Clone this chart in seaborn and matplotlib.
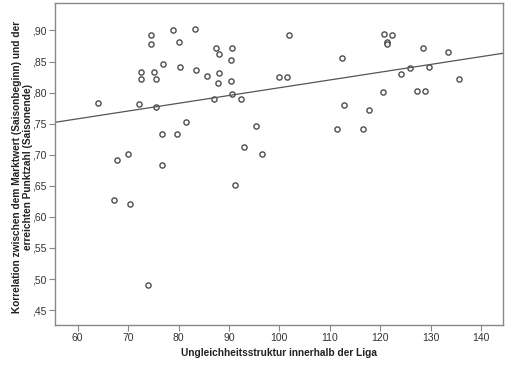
import matplotlib
matplotlib.use("Agg")
import matplotlib.pyplot as plt
import matplotlib.ticker as mticker
import seaborn as sns
import pandas as pd

ungleichheit = [64.0, 74.6, 74.6, 79.0, 83.3, 80.0, 87.4, 90.6, 88.0, 90.4,
                76.9, 72.6, 75.1, 80.2, 83.5, 85.7, 88.0, 72.6, 75.5, 87.9,
                90.5, 90.6, 87.1, 92.4, 72.2, 75.5, 81.4, 76.7, 79.6, 95.4,
                93.0, 96.5, 70.0, 67.7, 76.7, 100.0, 101.5, 101.9, 120.7, 122.4,
                121.3, 121.3, 128.4, 133.5, 112.5, 125.9, 129.7, 124.2, 135.7, 120.6,
                127.3, 128.9, 112.8, 117.8, 111.5, 116.6, 91.2, 67.3, 70.4, 73.9]
korrelation = [0.784, 0.892, 0.879, 0.900, 0.902, 0.882, 0.872, 0.872, 0.862, 0.852,
               0.846, 0.834, 0.834, 0.841, 0.837, 0.827, 0.832, 0.822, 0.822, 0.816,
               0.819, 0.798, 0.789, 0.790, 0.782, 0.777, 0.753, 0.733, 0.733, 0.746,
               0.712, 0.701, 0.701, 0.691, 0.683, 0.825, 0.825, 0.893, 0.894, 0.893,
               0.882, 0.878, 0.872, 0.865, 0.856, 0.840, 0.842, 0.830, 0.822, 0.801,
               0.802, 0.802, 0.780, 0.772, 0.742, 0.742, 0.651, 0.627, 0.621, 0.490]

x_ticks = [60, 70, 80, 90, 100, 110, 120, 130, 140]
y_ticks = [0.45, 0.50, 0.55, 0.60, 0.65, 0.70, 0.75, 0.80, 0.85, 0.90]

df = pd.DataFrame({"x": ungleichheit, "y": korrelation})

sns.set_theme(style="white")
plt.rcParams["font.family"] = ["Liberation Sans", "DejaVu Sans"]

fig = plt.figure(figsize=(5.07, 3.67), dpi=100)
ax = fig.add_axes([0.1085, 0.1144, 0.883, 0.877])
ax.set_xlim(55.5, 144.3)
ax.set_ylim(0.426, 0.944)

sns.regplot(data=df, x="x", y="y", ax=ax, ci=None, truncate=False,
            scatter_kws=dict(s=14, facecolors="white", edgecolors="#222222", linewidths=1.0),
            line_kws=dict(color="#555555", lw=0.9))

ax.set_xlim(55.5, 144.3)
ax.set_ylim(0.426, 0.944)
ax.set_xticks(x_ticks)
ax.set_yticks(y_ticks)
ax.yaxis.set_major_formatter(mticker.FuncFormatter(lambda v, p: ("%.2f" % v).lstrip("0").replace(".", ",")))
ax.tick_params(axis="both", which="major", direction="out", length=4, width=0.8,
               color="#888888", labelsize=7.5, labelcolor="#333333", pad=2)
ax.tick_params(left=True, bottom=True)
for s in ax.spines.values():
    s.set_color("#888888")
    s.set_linewidth(1.0)

ax.set_xlabel("Ungleichheitsstruktur innerhalb der Liga", fontsize=7.3, fontweight="bold", color="#222222", labelpad=3)
ax.set_ylabel("Korrelation zwischen dem Marktwert (Saisonbeginn) und der\nerreichten Punktzahl (Saisonende)",
              fontsize=7.3, fontweight="bold", color="#222222", linespacing=1.1)
ax.yaxis.set_label_coords(-0.049, 0.49)

fig.savefig("out.png", dpi=100)
